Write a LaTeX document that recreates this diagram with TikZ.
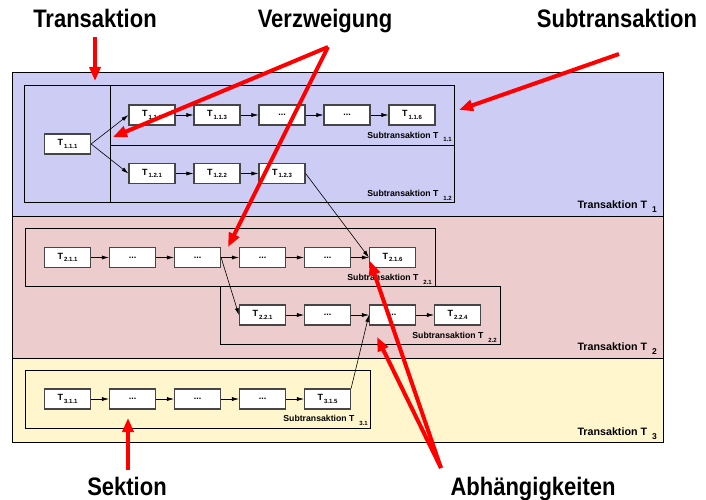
\documentclass[tikz,border=0pt]{standalone}
\usepackage{fontspec}
\setmainfont{Liberation Sans}
\usetikzlibrary{arrows.meta}
\definecolor{blauton}{RGB}{204,204,245}
\definecolor{rosaton}{RGB}{236,204,205}
\definecolor{gelbton}{RGB}{255,246,206}
\definecolor{rahmengrau}{RGB}{70,70,70}
\newcommand{\tnr}[1]{T\kern1pt\raisebox{-2.5pt}{\fontsize{6}{6}\selectfont #1}}
\newcommand{\stlabel}[1]{Subtransaktion T\kern5pt\raisebox{-4pt}{\fontsize{6}{6}\selectfont #1}}
\newcommand{\trlabel}[1]{Transaktion T\kern5pt\raisebox{-4pt}{\fontsize{8.5}{8.5}\selectfont #1}}
\newcommand{\bigtext}[1]{\scalebox{1}[1.15]{#1}}
\begin{document}
\begin{tikzpicture}[x=1pt,y=-1pt]
	\tikzstyle{band}=[draw=black, line width=1pt]
	\tikzstyle{frame}=[draw=black, line width=1pt]
	\tikzstyle{tbox}=[rectangle, draw=rahmengrau, line width=1.2pt, fill=white, minimum width=46pt, minimum height=20pt, inner sep=0pt, font=\fontsize{9}{9}\selectfont\bfseries]
	\tikzstyle{edge}=[draw=black, line width=0.6pt, -{Latex[length=7pt,width=4pt]}]
	\tikzstyle{hint}=[draw=red, line width=4pt, -{Triangle[length=14pt,width=11pt]}]
	\tikzstyle{small}=[inner sep=0pt, font=\fontsize{8.7}{8.7}\selectfont\bfseries]
	\tikzstyle{medium}=[inner sep=0pt, font=\fontsize{10.7}{10.7}\selectfont\bfseries]
	\tikzstyle{big}=[inner sep=0pt, anchor=base, font=\fontsize{22}{22}\selectfont\bfseries]

	\useasboundingbox (0,0) rectangle (706,500);

	% Transaktionen
	\path[band, fill=blauton] (12,73) rectangle (663,216);
	\path[band, fill=rosaton] (12,216) rectangle (663,358);
	\path[band, fill=gelbton] (12,358) rectangle (663,442);

	% Sektionen / Subtransaktionen
	\path[frame] (24,86) rectangle (454,202);
	\path[frame] (110,86) -- (110,202);
	\path[frame] (110,145) -- (454,145);
	\path[frame] (25,228) rectangle (435,286);
	\path[frame] (220,286) rectangle (500,344);
	\path[frame] (25,370) rectangle (370,428);

	% T1
	\node [tbox] (t111) at (67.5,144) {\tnr{1.1.1}};
	\node [tbox] (t112) at (152,115) {\tnr{1.1.2}};
	\node [tbox] (t113) at (217,115) {\tnr{1.1.3}};
	\node [tbox] (t114) at (282,115) {...};
	\node [tbox] (t115) at (347,115) {...};
	\node [tbox] (t116) at (412,115) {\tnr{1.1.6}};
	\node [tbox] (t121) at (152,173.5) {\tnr{1.2.1}};
	\node [tbox] (t122) at (217,173.5) {\tnr{1.2.2}};
	\node [tbox] (t123) at (282,173.5) {\tnr{1.2.3}};

	% T2
	\node [tbox] (t211) at (67.5,257.5) {\tnr{2.1.1}};
	\node [tbox] (t212) at (132.5,257.5) {...};
	\node [tbox] (t213) at (197.5,257.5) {...};
	\node [tbox] (t214) at (262.5,257.5) {...};
	\node [tbox] (t215) at (327.5,257.5) {...};
	\node [tbox] (t216) at (392.5,257.5) {\tnr{2.1.6}};
	\node [tbox] (t221) at (262.5,315) {\tnr{2.2.1}};
	\node [tbox] (t222) at (327.5,315) {...};
	\node [tbox] (t223) at (392.5,315) {...};
	\node [tbox] (t224) at (457.5,315) {\tnr{2.2.4}};

	% T3
	\node [tbox] (t311) at (67.5,399) {\tnr{3.1.1}};
	\node [tbox] (t312) at (132.5,399) {...};
	\node [tbox] (t313) at (197.5,399) {...};
	\node [tbox] (t314) at (262.5,399) {...};
	\node [tbox] (t315) at (327.5,399) {\tnr{3.1.5}};

	% Beschriftungen
	\node [small, anchor=base east] (st11) at (452,138) {\stlabel{1.1}};
	\node [small, anchor=base east] (st12) at (452,196) {\stlabel{1.2}};
	\node [small, anchor=base east] (st21) at (432,280) {\stlabel{2.1}};
	\node [small, anchor=base east] (st22) at (497,338) {\stlabel{2.2}};
	\node [small, anchor=base east] (st31) at (368,421.5) {\stlabel{3.1}};
	\node [medium, anchor=base east] (tr1) at (657,208.5) {\trlabel{1}};
	\node [medium, anchor=base east] (tr2) at (657,350.5) {\trlabel{2}};
	\node [medium, anchor=base east] (tr3) at (657,435) {\trlabel{3}};

	% Ablauf
	\path[edge] (t111.east) -- (t112.west);
	\path[edge] (t111.east) -- (t121.west);
	\path[edge] (t112) -- (t113);
	\path[edge] (t113) -- (t114);
	\path[edge] (t114) -- (t115);
	\path[edge] (t115) -- (t116);
	\path[edge] (t121) -- (t122);
	\path[edge] (t122) -- (t123);
	\path[edge] (t211) -- (t212);
	\path[edge] (t212) -- (t213);
	\path[edge] (t213) -- (t214);
	\path[edge] (t214) -- (t215);
	\path[edge] (t215) -- (t216);
	\path[edge] (t221) -- (t222);
	\path[edge] (t222) -- (t223);
	\path[edge] (t223) -- (t224);
	\path[edge] (t311) -- (t312);
	\path[edge] (t312) -- (t313);
	\path[edge] (t313) -- (t314);
	\path[edge] (t314) -- (t315);
	\path[edge] (t213.east) -- (t221.west);
	\path[edge] (t123.east) -- (t216.west);
	\path[edge] (t315.north east) -- (t223.west);

	% Erklaerungen
	\node [big] (ltrans) at (95,28) {\bigtext{Transaktion}};
	\node [big] (lverz) at (325,28) {\bigtext{Verzweigung}};
	\node [big] (lsub) at (617,28) {\bigtext{Subtransaktion}};
	\node [big] (lsek) at (127,495) {\bigtext{Sektion}};
	\node [big] (labh) at (533,495) {\bigtext{Abhängigkeiten}};

	\coordinate (ctrans) at (95,37);
	\coordinate (ptrans) at (95,81);
	\coordinate (cverz) at (328,47);
	\coordinate (pverz1) at (113,137);
	\coordinate (pverz2) at (228,247);
	\coordinate (csub) at (619,54);
	\coordinate (psub) at (459,110);
	\coordinate (csek) at (128,470);
	\coordinate (psek) at (128,418);
	\coordinate (cabh) at (441,468);
	\coordinate (pabh1) at (370,261);
	\coordinate (pabh2) at (377,337);

	\path[hint] (ctrans) -- (ptrans);
	\path[hint] (cverz) -- (pverz1);
	\path[hint] (cverz) -- (pverz2);
	\path[hint] (csub) -- (psub);
	\path[hint] (csek) -- (psek);
	\path[hint] (cabh) -- (pabh1);
	\path[hint] (cabh) -- (pabh2);
\end{tikzpicture}
\end{document}
